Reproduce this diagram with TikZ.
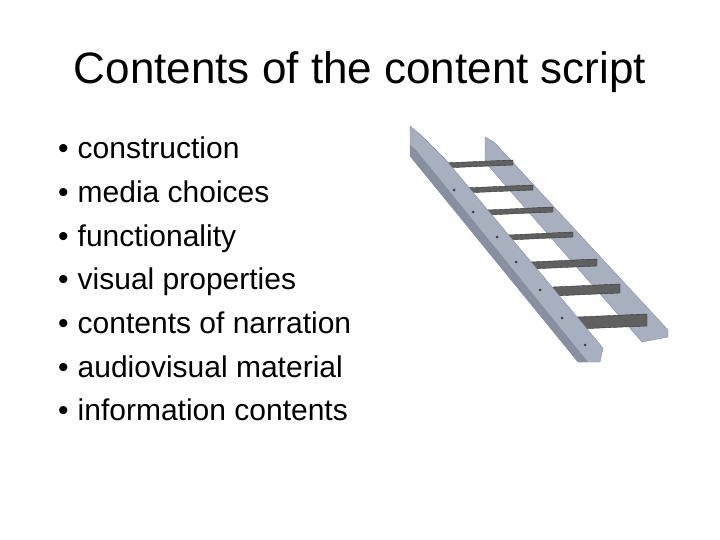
\documentclass[tikz,border=0pt]{standalone}
\usepackage{fontspec}
\setmainfont{Liberation Sans}
\definecolor{steelc}{RGB}{168,176,192}
\definecolor{steeld}{RGB}{135,143,160}
\begin{document}
\begin{tikzpicture}[x=1pt,y=-1pt,
  item/.style={anchor=base west,inner sep=0pt,font=\fontsize{30}{36}\selectfont},
  steel/.style={fill=steelc,draw=steeld},
  tread/.style={fill=gray!75!black,draw=gray!40!black}]
\useasboundingbox (0,0) rectangle (720,540);
\node[anchor=base,inner sep=0pt,font=\fontsize{44}{50}\selectfont] (title) at (360,84) {Contents of the content script};
\foreach \t [count=\i] in {construction,media choices,functionality,visual properties,contents of narration,audiovisual material,information contents}
  \node[item] (b\i) at (58,159+43.6*\i-43.6) {\textbullet\hspace{9pt}\t};
% right stringer (back)
\fill[steel] (485,137) -- (494,142) -- (668,330) -- (668,337) -- (642,342) -- (485,162) -- cycle;
% treads
\foreach \yl/\xl/\xr/\th [count=\k] in {163/443/513/5,188/463/533/5,210/487/553/5,235/508/573/5,262/530/597/7,287/553/620/9,317/577/647/12}
  \fill[tread] (\xl,\yl) -- (\xr,\yl-3) -- (\xr,\yl-3+\th) -- (\xl,\yl+\th) -- cycle;
% left stringer (front)
\fill[steel] (410,126) -- (422,136) -- (446,160) -- (603,348) -- (600,362) -- (578,362) -- (410,156) -- cycle;
\fill[steeld] (410,145) -- (416,150) -- (588,362) -- (578,362) -- (410,156) -- cycle;
\foreach \p in {(454,190),(473,212),(497,237),(516,262),(540,290),(562,318),(585,345)}
  \fill[gray!50!black] \p circle (1.5);
\end{tikzpicture}
\end{document}
